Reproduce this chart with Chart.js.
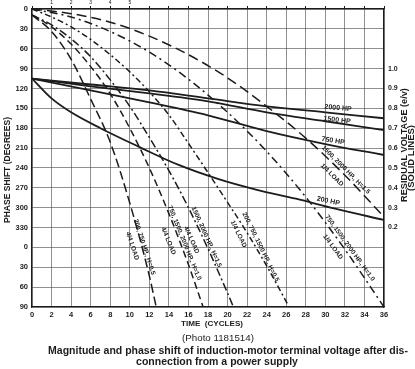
<!DOCTYPE html>
<html><head><meta charset="utf-8">
<script src="https://cdn.jsdelivr.net/npm/chart.js@4.4.1/dist/chart.umd.min.js"></script>
<style>html,body{margin:0;padding:0;background:#fff;}#wrap{width:415px;height:369px;}</style>
</head><body><div id="wrap"><canvas id="c" width="415" height="369"></canvas></div>
<script>
// ---- data ----
// residual voltage (solid lines), per unit
const timeSolid = [0, 6, 12, 18, 24, 30, 36];
const volt2000 = [0.95, 0.92, 0.89, 0.85, 0.81, 0.78, 0.75];
const volt1500 = [0.95, 0.91, 0.875, 0.835, 0.78, 0.735, 0.69];
const volt750  = [0.95, 0.89, 0.83, 0.765, 0.685, 0.62, 0.565];
const time200  = [0, 2, 4, 7, 11, 15, 19, 23, 27, 31, 36];
const volt200  = [0.95, 0.85, 0.78, 0.70, 0.605, 0.515, 0.445, 0.39, 0.345, 0.295, 0.238];
// phase shift (dashed lines), degrees (continuous, past 360)
const timeFull05  = [0, 2, 4, 6, 8, 10, 12, 12.7];
const phaseFull05 = [9, 34, 76, 136, 201, 293, 403, 450];
const timeFull10  = [0, 2, 4, 6, 8, 10, 12, 14, 16, 17.5];
const phaseFull10 = [9, 27, 53, 87, 128, 180, 240, 309, 386, 450];
const timeFull15  = [0, 2, 4, 6, 8, 10, 12, 14, 16, 18, 20, 20.6];
const phaseFull15 = [9, 24, 45, 72, 107, 147, 194, 244, 300, 362, 429, 450];
const timeQuarter05  = [0, 2, 4, 6, 8, 10, 12, 14, 16, 18, 20, 22, 24, 26.3];
const phaseQuarter05 = [0, 12, 27, 46, 69, 95, 125, 160, 203, 247, 292, 338, 388, 450];
const timeQuarter    = [0, 4, 8, 12, 16, 20, 24, 28, 32, 36];
const phaseQuarter10 = [0, 12, 34, 65, 106, 156, 215, 284, 363, 450];
const phaseQuarter15 = [0, 7, 20, 41, 69, 104, 147, 195, 251, 314];
// tick labels
const phaseTickLabels = ['0','30','60','90','120','150','180','210','240','270','300','330','0','30','60','90'];
const voltTickLabels = ['1.0','0.9','0.8','0.7','0.6','0.5','0.4','0.3','0.2'];
const topTickLabels = ['', '1', '2', '3', '4', '5'];

const pts = (xs, ys) => xs.map((v, i) => ({x: v, y: ys[i]}));
const INK = '#1c1c1c';
const FAM = '"Liberation Sans", Arial, sans-serif';

function solid(data) {
  return {data, yAxisID: 'y2', borderColor: INK, borderWidth: 1.8, pointRadius: 0, cubicInterpolationMode: 'monotone', fill: false};
}
function dashed(data, dash) {
  return {data, yAxisID: 'y', borderColor: INK, borderWidth: 1.5, borderDash: dash, pointRadius: 0, cubicInterpolationMode: 'monotone', fill: false};
}

const curveLabels = [
  {text: '2000 HP', t: 31.3, ph: 149.5, rot: 5, size: 7},
  {text: '1500 HP', t: 31.2, ph: 167.6, rot: 7, size: 7},
  {text: '750 HP', t: 30.8, ph: 199, rot: 9, size: 7},
  {text: '200 HP', t: 30.3, ph: 290, rot: 12, size: 7},
  {text: '200, 750 HP., H=0.5', t: 11.49, ph: 359.4, rot: 72, size: 6.5},
  {text: '4/4 LOAD', t: 10.26, ph: 357.9, rot: 72, size: 6.5},
  {text: '750, 1500, 2000 HP., H=1.0', t: 15.59, ph: 353.3, rot: 68, size: 6.5},
  {text: '4/4 LOAD', t: 13.95, ph: 350.3, rot: 68, size: 6.5},
  {text: '1500, 2000 HP., H=1.5', t: 17.85, ph: 344.3, rot: 66, size: 6.5},
  {text: '4/4 LOAD', t: 16.31, ph: 348.8, rot: 66, size: 6.5},
  {text: '200, 750, 1500 HP., H=0.5', t: 23.38, ph: 359.4, rot: 64, size: 6.5},
  {text: '1/4 LOAD', t: 21.13, ph: 339.8, rot: 64, size: 6.5},
  {text: '750, 1500, 2000 HP., H=1.0', t: 32.51, ph: 360.9, rot: 54, size: 6.5},
  {text: '1/4 LOAD', t: 30.77, ph: 359.4, rot: 54, size: 6.5},
  {text: '1500, 2000 HP., H=1.5', t: 32.1, ph: 243, rot: 45, size: 6.5},
  {text: '1/4 LOAD', t: 30.67, ph: 250.7, rot: 45, size: 6.5}
];

const labelPlugin = {
  id: 'curveLabels',
  afterDatasetsDraw(chart) {
    const {ctx, scales: {x, y}} = chart;
    ctx.save();
    ctx.fillStyle = INK;
    ctx.textAlign = 'center';
    ctx.textBaseline = 'middle';
    for (const L of curveLabels) {
      ctx.save();
      ctx.translate(x.getPixelForValue(L.t), y.getPixelForValue(L.ph));
      ctx.rotate(L.rot * Math.PI / 180);
      ctx.font = `bold ${L.size}px ${FAM}`;
      ctx.fillText(L.text, 0, 0);
      ctx.restore();
    }
    ctx.restore();
  }
};

function textFit(ctx, text, cx, cy, width, weight, rot) {
  ctx.save();
  ctx.font = `${weight} 10px ${FAM}`;
  const w = ctx.measureText(text).width;
  const size = 10 * width / w;
  ctx.font = `${weight} ${size.toFixed(2)}px ${FAM}`;
  ctx.translate(cx, cy);
  if (rot) ctx.rotate(rot);
  ctx.textAlign = 'center';
  ctx.textBaseline = 'middle';
  ctx.fillText(text, 0, 0);
  ctx.restore();
}

const captionPlugin = {
  id: 'captions',
  afterDraw(chart) {
    const ctx = chart.ctx;
    ctx.save();
    ctx.fillStyle = INK;
    textFit(ctx, 'PHASE SHIFT (DEGREES)', 8, 170, 106, 'bold', -Math.PI / 2);
    textFit(ctx, 'RESIDUAL VOLTAGE (e/v)', 404, 145, 114, 'bold', -Math.PI / 2);
    textFit(ctx, '(SOLID LINES)', 411.5, 158, 66, 'bold', -Math.PI / 2);
    textFit(ctx, 'TIME  (CYCLES)', 212, 324, 62, 'bold');
    textFit(ctx, '(Photo 1181514)', 218, 338, 72, 'normal');
    textFit(ctx, 'Magnitude and phase shift of induction-motor terminal voltage after dis-', 228, 351, 360, 'bold');
    ctx.font = ctx.font; 
    ctx.restore();
    ctx.save();
    ctx.fillStyle = INK;
    // second caption line with same size as the first
    ctx.font = `bold 10px ${FAM}`;
    const w1 = ctx.measureText('Magnitude and phase shift of induction-motor terminal voltage after dis-').width;
    const s = 10 * 360 / w1;
    ctx.font = `bold ${s.toFixed(2)}px ${FAM}`;
    ctx.textAlign = 'center';
    ctx.textBaseline = 'middle';
    ctx.fillText('connection from a power supply', 217, 362);
    ctx.restore();
  }
};

const tickFont = {family: FAM, size: 7.5, weight: 'bold'};
const gridColor = 'rgba(70,70,70,0.6)';

new Chart(document.getElementById('c'), {
  type: 'line',
  data: {
    datasets: [
      solid(pts(timeSolid, volt2000)),
      solid(pts(timeSolid, volt1500)),
      solid(pts(timeSolid, volt750)),
      solid(pts(time200, volt200)),
      dashed(pts(timeFull05, phaseFull05), [9, 4]),
      dashed(pts(timeFull10, phaseFull10), [7, 4]),
      dashed(pts(timeFull15, phaseFull15), [8, 3, 2, 3]),
      dashed(pts(timeQuarter05, phaseQuarter05), [6, 3, 2, 3]),
      dashed(pts(timeQuarter, phaseQuarter10), [8, 4, 2, 4]),
      dashed(pts(timeQuarter, phaseQuarter15), [10, 5])
    ]
  },
  options: {
    responsive: false,
    animation: false,
    devicePixelRatio: 1,
    layout: {padding: 0},
    plugins: {legend: {display: false}, tooltip: {enabled: false}},
    scales: {
      x: {
        type: 'linear', position: 'bottom', min: 0, max: 36,
        ticks: {stepSize: 2, font: tickFont, color: INK, padding: 3, maxRotation: 0, autoSkip: false},
        grid: {color: gridColor, lineWidth: 1, drawTicks: false},
        border: {display: true, color: INK, width: 1.3},
        afterFit: s => { s.height = 62; }
      },
      x2: {
        type: 'linear', position: 'top', min: 0, max: 36,
        ticks: {stepSize: 2, font: {family: FAM, size: 5}, color: INK, padding: 0, maxRotation: 0, autoSkip: false,
          callback: (v) => { const i = Math.round(v / 2); return i < topTickLabels.length ? topTickLabels[i] : ''; }},
        grid: {drawOnChartArea: false, drawTicks: true, tickLength: 3, color: INK},
        border: {display: true, color: INK, width: 1.3},
        afterFit: s => { s.height = 9; }
      },
      y: {
        type: 'linear', position: 'left', reverse: true, min: 0, max: 450,
        ticks: {stepSize: 30, font: tickFont, color: INK, padding: 4, autoSkip: false,
          callback: (v) => phaseTickLabels[Math.round(v / 30)]},
        grid: {color: gridColor, lineWidth: 1, drawTicks: false},
        border: {display: true, color: INK, width: 1.3},
        afterFit: s => { s.width = 32; }
      },
      y2: {
        type: 'linear', position: 'right', min: -0.2, max: 1.3,
        ticks: {stepSize: 0.1, font: {family: FAM, size: 7, weight: 'bold'}, color: INK, padding: 4, autoSkip: false,
          callback: (v) => { const i = Math.round((1.0 - v) * 10); return (i >= 0 && i < voltTickLabels.length) ? voltTickLabels[i] : null; }},
        grid: {drawOnChartArea: false, drawTicks: false},
        border: {display: true, color: INK, width: 1.3},
        afterFit: s => { s.width = 31; }
      }
    }
  },
  plugins: [labelPlugin, captionPlugin]
});
</script>
</body></html>
